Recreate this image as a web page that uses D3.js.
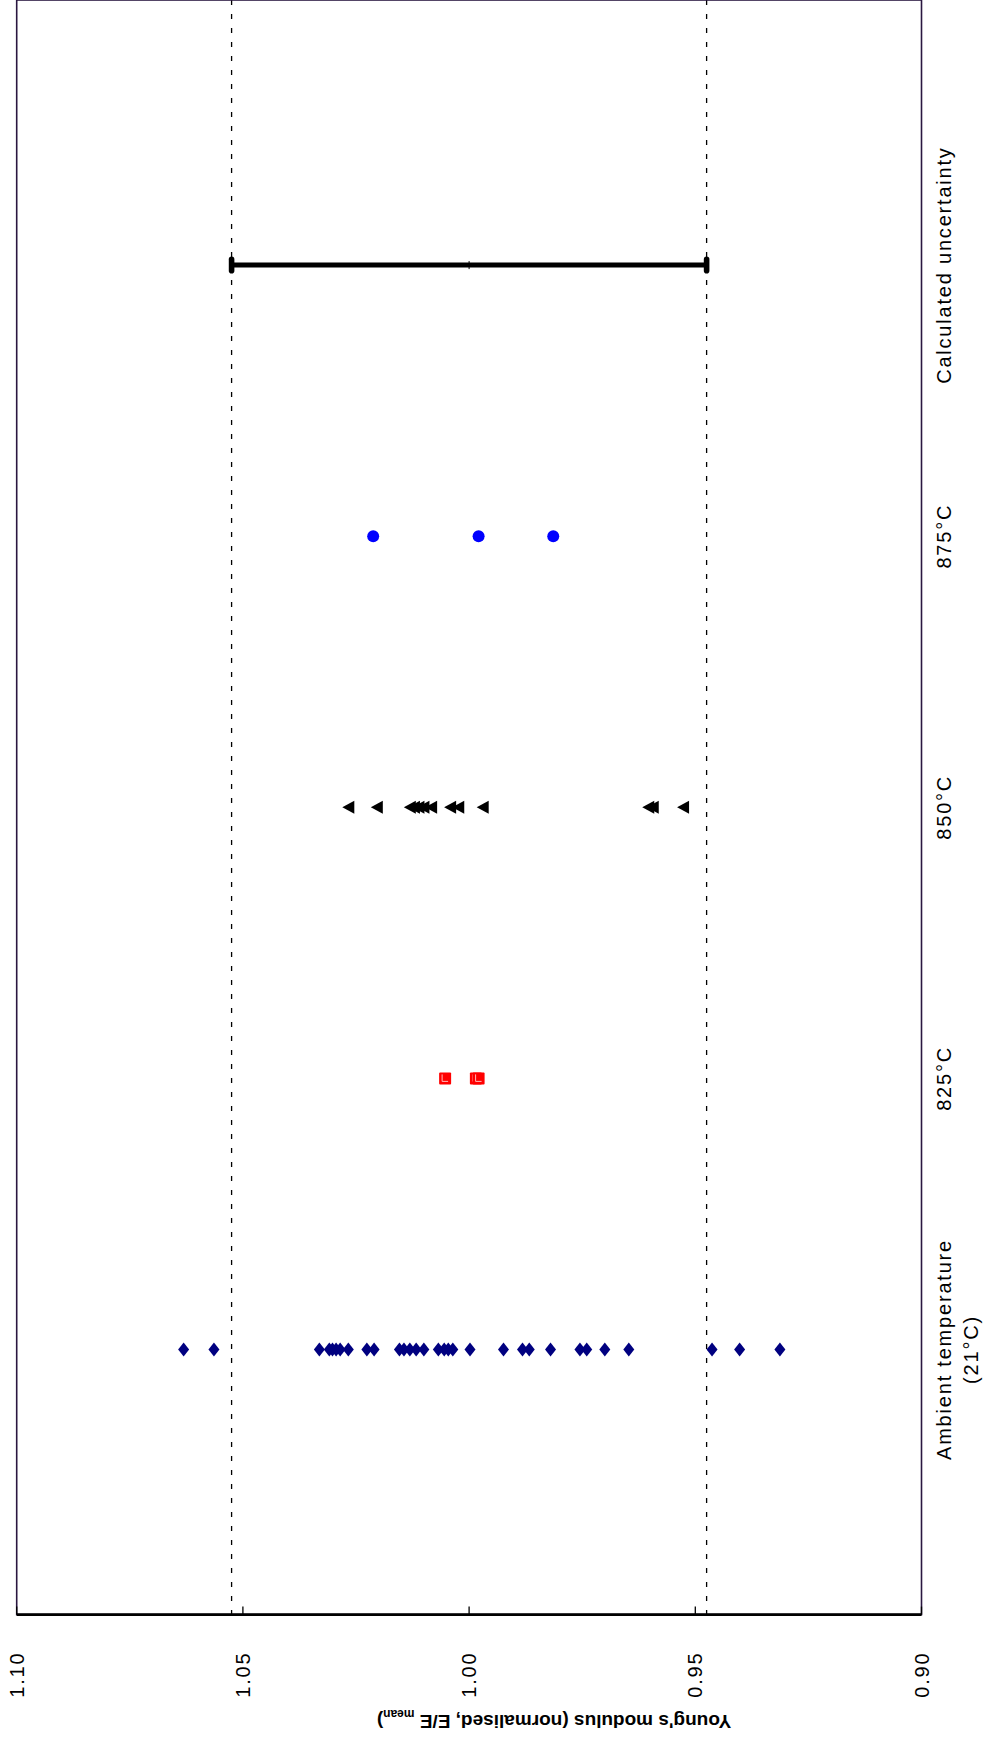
<!DOCTYPE html>
<html>
<head>
<meta charset="utf-8">
<script src="https://cdn.jsdelivr.net/npm/d3@7"></script>
<style>
  html, body { margin: 0; padding: 0; background: #fff; }
  svg { display: block; font-family: Arial, "Liberation Sans", sans-serif; }
  .tick-label { font-size: 20px; letter-spacing: 1.8px; fill: #000; }
  .cat-label { font-size: 20px; letter-spacing: 1.8px; fill: #000; }
  .axis-title { font-size: 19px; font-weight: bold; fill: #000; }
</style>
</head>
<body>
<svg id="chart" width="985" height="1746"></svg>
<script>
// Young's modulus scatter, drawn sideways (value axis runs across the page)

const categories = ["Ambient temperature|(21°C)", "825°C", "850°C", "875°C", "Calculated uncertainty"];

const ambientValues = [
  1.0631, 1.0564, 1.0331, 1.0309, 1.0302, 1.0294, 1.0285, 1.0267, 1.0226, 1.0210,
  1.0154, 1.0144, 1.0131, 1.0117, 1.0100, 1.0068, 1.0055, 1.0046, 1.0036, 0.9998,
  0.9924, 0.9882, 0.9867, 0.9820, 0.9755, 0.9740, 0.9700, 0.9647, 0.9463, 0.9402,
  0.9313
];
const t825Values = [1.0053, 0.9985, 0.9979];
const t850Values = [
  1.0267, 1.0204, 1.0131, 1.0122, 1.0112, 1.0101, 1.0084, 1.0042, 1.0024, 0.9970,
  0.9604, 0.9594, 0.9527
];
const t875Values = [1.0212, 0.9979, 0.9814];
const uncertaintyRange = [0.9475, 1.00, 1.0525]; // low, mean, high
const limitLines = [1.0525, 0.9475];
const valueTicks = [1.10, 1.05, 1.00, 0.95, 0.90];

(function () {
  const svg = d3.select("#chart");

  const plot = { left: 16.7, right: 921.5, top: 0, bottom: 1614.6 };

  // value axis runs left -> right from 1.10 to 0.90
  const x = d3.scaleLinear().domain([1.10, 0.90]).range([plot.left, plot.right]);
  // category positions 1..5, bottom to top
  const y = d3.scaleLinear().domain([0, 6]).range([1620.6, -6]);

  const frameColor = "#2a1740";

  // dashed limit lines
  svg.append("g")
    .selectAll("line")
    .data(limitLines)
    .join("line")
    .attr("x1", (d) => x(d))
    .attr("x2", (d) => x(d))
    .attr("y1", plot.top)
    .attr("y2", plot.bottom)
    .attr("stroke", "#000")
    .attr("stroke-width", 1.3)
    .attr("stroke-dasharray", "5,9");

  // frame
  svg.append("rect")
    .attr("x", plot.left)
    .attr("y", plot.top)
    .attr("width", plot.right - plot.left)
    .attr("height", plot.bottom - plot.top)
    .attr("fill", "none")
    .attr("stroke", frameColor)
    .attr("stroke-width", 1.6);

  // value axis (bottom edge)
  svg.append("line")
    .attr("x1", plot.left)
    .attr("x2", plot.right)
    .attr("y1", plot.bottom)
    .attr("y2", plot.bottom)
    .attr("stroke", "#000")
    .attr("stroke-width", 2.6);

  svg.append("g")
    .selectAll("line")
    .data(valueTicks)
    .join("line")
    .attr("x1", (d) => x(d))
    .attr("x2", (d) => x(d))
    .attr("y1", plot.bottom)
    .attr("y2", plot.bottom - 8)
    .attr("stroke", "#000")
    .attr("stroke-width", 1.3);

  svg.append("g")
    .selectAll("text")
    .data(valueTicks)
    .join("text")
    .attr("class", "tick-label")
    .attr("transform", (d) => `translate(${x(d)},${plot.bottom + 60}) rotate(-90)`)
    .attr("text-anchor", "middle")
    .attr("dy", "0.35em")
    .text((d) => d.toFixed(2));

  // axis title, upside down
  const title = svg.append("text")
    .attr("class", "axis-title")
    .attr("transform", `translate(554,${plot.bottom + 107}) rotate(180)`)
    .attr("text-anchor", "middle")
    .attr("dy", "0.35em");
  title.append("tspan").text("Young's modulus (normalised, E/E ");
  title.append("tspan").attr("font-size", "12px").attr("dy", "5").text("mean");
  title.append("tspan").attr("dy", "-5").text(")");

  // category labels
  const catG = svg.append("g")
    .selectAll("g")
    .data(categories)
    .join("g")
    .attr("transform", (d, i) => `translate(944,${y(i + 1)}) rotate(-90)`);

  catG.each(function (d) {
    const lines = d.split("|");
    const t = d3.select(this)
      .append("text")
      .attr("class", "cat-label")
      .attr("text-anchor", "middle");
    lines.forEach((ln, j) => {
      t.append("tspan")
        .attr("x", 0)
        .attr("y", j * 27)
        .attr("dy", "0.35em")
        .text(ln);
    });
  });

  // ambient: navy diamonds
  svg.append("g")
    .selectAll("path")
    .data(ambientValues)
    .join("path")
    .attr("transform", (d) => `translate(${x(d)},${y(1)})`)
    .attr("d", "M0,-7L5.5,0L0,7L-5.5,0Z")
    .attr("fill", "#000080");

  // 825: red squares
  const sq = svg.append("g")
    .selectAll("g")
    .data(t825Values)
    .join("g")
    .attr("transform", (d) => `translate(${x(d)},${y(2)})`);
  sq.append("rect")
    .attr("x", -6)
    .attr("y", -6)
    .attr("width", 12)
    .attr("height", 12)
    .attr("rx", 1)
    .attr("fill", "#ff0000");
  sq.append("path")
    .attr("d", "M-3,-4V3H3")
    .attr("fill", "none")
    .attr("stroke", "#ffb8b8")
    .attr("stroke-width", 1);

  // 850: black triangles pointing left
  svg.append("g")
    .selectAll("path")
    .data(t850Values)
    .join("path")
    .attr("transform", (d) => `translate(${x(d)},${y(3)})`)
    .attr("d", "M-6,0L6,-6.5L6,6.5Z")
    .attr("fill", "#000");

  // 875: blue circles
  svg.append("g")
    .selectAll("circle")
    .data(t875Values)
    .join("circle")
    .attr("cx", (d) => x(d))
    .attr("cy", y(4))
    .attr("r", 6)
    .attr("fill", "#0000ff");

  // calculated uncertainty: error bar
  const eb = svg.append("g");
  eb.append("line")
    .attr("x1", x(uncertaintyRange[0]))
    .attr("x2", x(uncertaintyRange[2]))
    .attr("y1", y(5))
    .attr("y2", y(5))
    .attr("stroke", "#000")
    .attr("stroke-width", 5);
  eb.selectAll("rect")
    .data([uncertaintyRange[0], uncertaintyRange[2]])
    .join("rect")
    .attr("x", (d) => x(d) - 2.8)
    .attr("y", y(5) - 8.5)
    .attr("width", 5.6)
    .attr("height", 17)
    .attr("rx", 2.8)
    .attr("fill", "#000");
  eb.append("line")
    .attr("x1", x(uncertaintyRange[1]))
    .attr("x2", x(uncertaintyRange[1]))
    .attr("y1", y(5) - 4)
    .attr("y2", y(5) + 4)
    .attr("stroke", "#000")
    .attr("stroke-width", 1);
})();
</script>
</body>
</html>
